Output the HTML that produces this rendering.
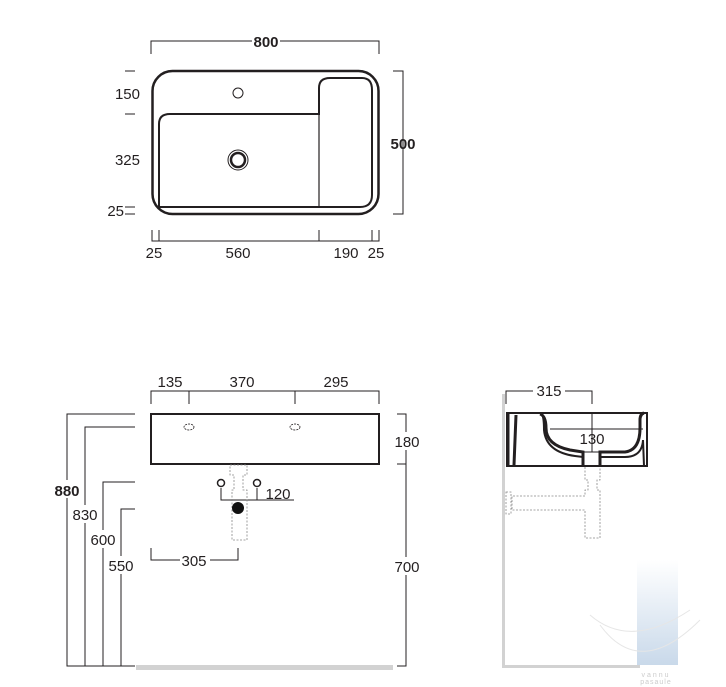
<!DOCTYPE html>
<html><head><meta charset="utf-8"><style>
html,body{margin:0;padding:0;background:#fff;}
svg{display:block;}
text{font-family:"Liberation Sans",Arial,sans-serif;font-size:15px;fill:#231f20;}
.b{font-weight:bold;}
</style></head><body>
<svg width="726" height="687" viewBox="0 0 726 687" xmlns="http://www.w3.org/2000/svg">
<defs>
<linearGradient id="g" x1="0" y1="0" x2="0" y2="1">
<stop offset="0" stop-color="#fff"/><stop offset="1" stop-color="#c9d9ea"/>
</linearGradient>
</defs>
<g fill="none" stroke="#231f20" stroke-width="1">
<path d="M151 54V41H379V54"/>
<path d="M393 71H403V214H393"/>
<path d="M125 71H135M125 114H135M125 207H135M125 214H135"/>
<path d="M152 230V241H379V230M159 230V241M319 230V241M372 230V241"/>
</g>
<rect x="152.5" y="71" width="226" height="143" rx="20" fill="none" stroke="#231f20" stroke-width="2.5"/>
<path d="M159 207V124Q159 114 170 114H319V88Q319 78 330 78H362Q372 78 372 90V195Q372 207 360 207Z" fill="none" stroke="#231f20" stroke-width="2"/>
<line x1="319" y1="114" x2="319" y2="207" stroke="#231f20" stroke-width="1.2"/>
<circle cx="238" cy="93" r="5" fill="none" stroke="#231f20" stroke-width="1"/>
<circle cx="238" cy="160" r="10" fill="none" stroke="#231f20" stroke-width="1"/>
<circle cx="238" cy="160" r="7" fill="none" stroke="#231f20" stroke-width="2.5"/>
<rect x="252" y="33" width="28" height="16" fill="#fff"/>
<text x="266" y="47" class="b" text-anchor="middle">800</text>
<text x="403" y="149" class="b" text-anchor="middle">500</text>
<text x="140" y="99" text-anchor="end">150</text>
<text x="140" y="165" text-anchor="end">325</text>
<text x="124" y="216" text-anchor="end">25</text>
<text x="154" y="258" text-anchor="middle">25</text>
<text x="238" y="258" text-anchor="middle">560</text>
<text x="346" y="258" text-anchor="middle">190</text>
<text x="376" y="258" text-anchor="middle">25</text>

<g fill="none" stroke="#231f20" stroke-width="1">
<path d="M151 404V391H379V404M189 391V404M295 391V404"/>
<path d="M397 414H406V666H397M397 464H406"/>
<path d="M135 414H67V666H135M135 427H85V666M135 482H103V666M135 509H121V666"/>
<path d="M221 488V500H294M257 488V500"/>
<path d="M151 548V560H238V548"/>
</g>
<rect x="136" y="665" width="257" height="5" fill="#d2d2d2"/>
<rect x="151" y="414" width="228" height="50" fill="none" stroke="#231f20" stroke-width="2"/>
<ellipse cx="189" cy="427" rx="5" ry="3" fill="none" stroke="#231f20" stroke-width="0.8" stroke-dasharray="2 1"/>
<ellipse cx="295" cy="427" rx="5" ry="3" fill="none" stroke="#231f20" stroke-width="0.8" stroke-dasharray="2 1"/>
<g fill="none" stroke="#888" stroke-width="0.8" stroke-dasharray="2 1.5">
<path d="M230 465H247V475H243V490H247V540H232V490H234V475H230Z"/>
</g>
<circle cx="238" cy="508" r="6" fill="#111"/>
<circle cx="221" cy="483" r="3.5" fill="#fff" stroke="#231f20" stroke-width="1.5"/>
<circle cx="257" cy="483" r="3.5" fill="#fff" stroke="#231f20" stroke-width="1.5"/>
<rect x="57" y="480" width="22" height="18" fill="#fff"/>
<rect x="73" y="505" width="24" height="18" fill="#fff"/>
<rect x="91" y="530" width="24" height="18" fill="#fff"/>
<rect x="109" y="556" width="24" height="18" fill="#fff"/>
<rect x="396" y="432" width="22" height="18" fill="#fff"/>
<rect x="396" y="557" width="22" height="18" fill="#fff"/>
<rect x="180" y="552" width="30" height="16" fill="#fff"/>
<text x="67" y="496" class="b" text-anchor="middle">880</text>
<text x="85" y="520" text-anchor="middle">830</text>
<text x="103" y="545" text-anchor="middle">600</text>
<text x="121" y="571" text-anchor="middle">550</text>
<text x="407" y="447" text-anchor="middle">180</text>
<text x="407" y="572" text-anchor="middle">700</text>
<text x="170" y="387" text-anchor="middle">135</text>
<text x="242" y="387" text-anchor="middle">370</text>
<text x="336" y="387" text-anchor="middle">295</text>
<text x="278" y="499" text-anchor="middle">120</text>
<text x="194" y="566" text-anchor="middle">305</text>

<rect x="637" y="560" width="41" height="105" fill="url(#g)"/>
<path d="M600 625Q640 680 700 620M590 615Q630 650 690 610" fill="none" stroke="#e6e6e6" stroke-width="1"/>
<rect x="502" y="394" width="3" height="274" fill="#d2d2d2"/>
<rect x="502" y="665" width="138" height="3" fill="#d2d2d2"/>
<g fill="none" stroke="#231f20" stroke-width="1">
<path d="M506 404V391H592V404"/>
<path d="M592 413V452"/>
<path d="M550 429H643"/>
</g>
<g fill="none" stroke="#888" stroke-width="0.8" stroke-dasharray="2 1.5">
<path d="M585 466H600V480H597V490H600V538H585V510H512V496H585V490H588V480H585Z"/>
<rect x="506" y="492" width="5" height="22"/>
</g>
<rect x="507" y="413" width="140" height="53" fill="none" stroke="#231f20" stroke-width="2"/>
<path d="M508 413V466M516 415L514 465" fill="none" stroke="#231f20" stroke-width="3"/>
<path d="M540 414Q546 416 546 428Q546 445 570 450L583 452V466" fill="none" stroke="#231f20" stroke-width="3"/>
<path d="M542 414Q544 418 544 430Q546 452 575 456L583 457" fill="none" stroke="#231f20" stroke-width="2"/>
<path d="M600 466V452H625Q640 450 640 428V420Q640 414 644 413" fill="none" stroke="#231f20" stroke-width="3"/>
<path d="M600 457H625Q642 457 643 440L644 466" fill="none" stroke="#231f20" stroke-width="2"/>
<path d="M583 452H600" stroke="#231f20" stroke-width="1"/>
<text x="592" y="444" text-anchor="middle">130</text>
<rect x="533" y="383" width="32" height="16" fill="#fff"/>
<text x="549" y="396" text-anchor="middle">315</text>
<text x="656" y="677" text-anchor="middle" style="font-size:7px;fill:#ccc;letter-spacing:2px">vannu</text>
<text x="656" y="684" text-anchor="middle" style="font-size:7px;fill:#ccc;letter-spacing:1px">pasaule</text>
</svg>
</body></html>
